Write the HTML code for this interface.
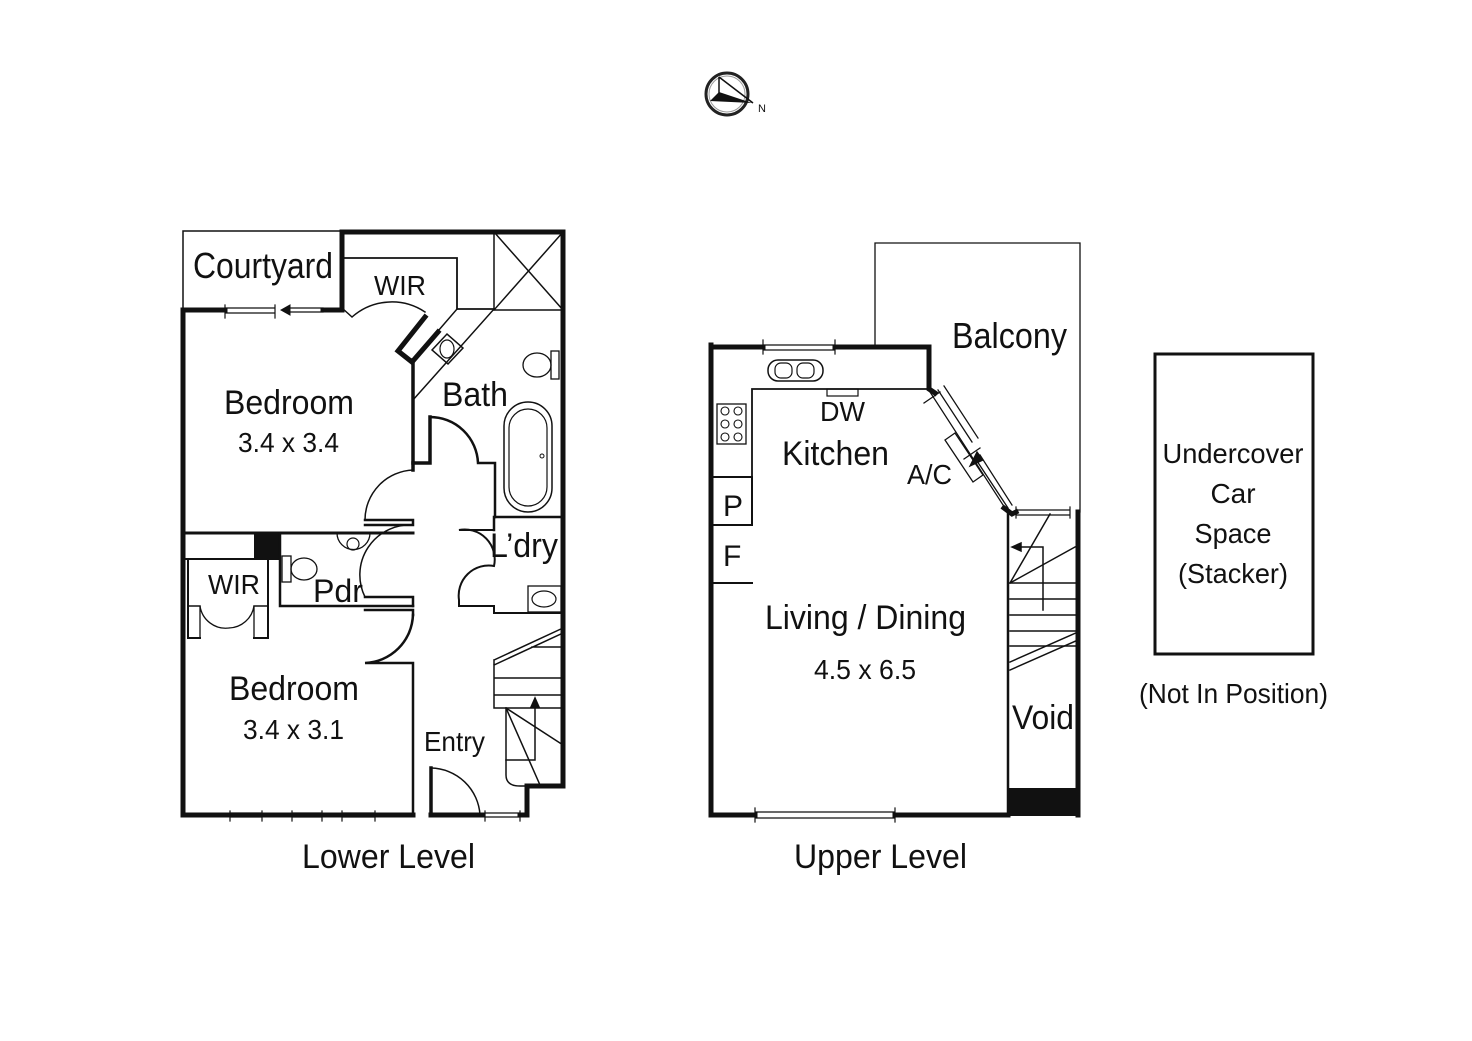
<!DOCTYPE html>
<html><head><meta charset="utf-8"><style>
html,body{margin:0;padding:0;background:#fff;}
svg{display:block;}
text{font-family:"Liberation Sans",sans-serif;fill:#111;}
</style></head><body>
<svg width="1472" height="1041" viewBox="0 0 1472 1041" xmlns="http://www.w3.org/2000/svg">
<rect width="1472" height="1041" fill="#fff"/>
<!-- compass -->
<circle cx="727" cy="94" r="21" fill="none" stroke="#222" stroke-width="3"/>
<circle cx="727" cy="94" r="18" fill="none" stroke="#999" stroke-width="1"/>
<path d="M719 92 L710 101 L752 103 Z" fill="#111"/>
<path d="M719 77 L719 93 M719 77 L753 103" stroke="#111" stroke-width="1.5" fill="none"/>
<text x="758" y="112" font-size="11">N</text>

<g fill="none" stroke="#111" stroke-linecap="square">
<!-- LOWER LEVEL -->
<path d="M183 308 L183 231 L342 231" stroke-width="1.5"/>
<path d="M342 308 L342 232 L563 232 L563 786 L527 786 L527 815" stroke-width="5"/>
<path d="M183 310 L183 815 L413 815 M431 815 L483 815 M520 815 L527 815" stroke-width="5"/>
<path d="M183 310 L225 310 M323 310 L342 310" stroke-width="5"/>
<g stroke-width="1.2">
<path d="M225 305 L225 318 M275 305 L275 318 M225 308 L275 308 M225 313 L275 313"/>
<path d="M290 308 L323 308 M290 312 L323 312"/>
<path d="M230 811 L230 821 M262 811 L262 821 M230 813 L262 813 M230 817 L262 817"/>
<path d="M292 811 L292 821 M322 811 L322 821 M292 813 L322 813 M292 817 L322 817"/>
<path d="M342 811 L342 821 M375 811 L375 821 M342 813 L375 813 M342 817 L375 817"/>
<path d="M485 811 L485 821 M520 811 L520 821 M485 813 L520 813 M485 817 L520 817"/>
</g>
<path d="M262 815 L292 815 M322 815 L342 815" stroke-width="5"/>
<path d="M281 310 L290 305 L290 315 Z" fill="#111" stroke-width="1"/>
<path d="M345 258 L457 258 L457 309 L494 309" stroke-width="1.8"/>
<path d="M494 232 L494 310 L563 310 M494 232 L563 310 M563 232 L494 310" stroke-width="1.5"/>
<path d="M342 308 L352 317 M352 317 A60 60 0 0 1 425 312" stroke-width="1.5"/>
<path d="M425 317 L398 351 L412 362 L438 332" stroke-width="5"/>
<path d="M457 309 L413 360 M494 309 L413 400" stroke-width="1.5"/>
<path d="M432 350 L447 334 L463 348 L448 364 Z" stroke-width="1.5"/>
<ellipse cx="447" cy="349" rx="7" ry="9" stroke-width="1.2"/>
<ellipse cx="537" cy="365" rx="14" ry="12" stroke-width="1.3"/>
<rect x="551" y="351" width="8" height="28" stroke-width="1.3"/>
<rect x="504" y="402" width="48" height="110" rx="24" stroke-width="1.5"/>
<rect x="509" y="409" width="38" height="97" rx="19" stroke-width="1.2"/>
<circle cx="542" cy="456" r="2" stroke-width="1"/>
<path d="M413 360 L413 463 L430 463 L430 417" stroke-width="3.5"/>
<path d="M430 417 A48 48 0 0 1 478 463 L495 463 L495 517" stroke-width="2.5"/>
<path d="M413 463 L413 470" stroke-width="3.5"/>
<path d="M413 470 A50 50 0 0 0 365 520 L413 520" stroke-width="1.5"/>
<path d="M365 520 L413 520 L413 525 L365 525" stroke-width="2.5"/>
<path d="M183 533 L413 533" stroke-width="3"/>
<path d="M183 559 L280 559" stroke-width="2"/>
<rect x="254" y="533" width="26" height="25" fill="#111" stroke="none"/>
<path d="M280 533 L280 606 L413 606" stroke-width="2.5"/>
<path d="M365 597 L413 597 L413 606 M365 610 L413 610 L413 615" stroke-width="2.5"/>
<path d="M413 525 A50 50 0 0 0 365 597" stroke-width="1.5"/>
<path d="M413 615 A50 50 0 0 1 365 663 L413 663 L413 815" stroke-width="2.5"/>
<path d="M337 533 A16 16 0 0 0 370 533" stroke-width="1.3"/>
<circle cx="353" cy="544" r="6" stroke-width="1.2"/>
<rect x="282" y="556" width="9" height="26" stroke-width="1.3"/>
<ellipse cx="304" cy="569" rx="13" ry="11" stroke-width="1.3"/>
<path d="M188 559 L188 638 L200 638 M268 559 L268 638 L254 638" stroke-width="2"/>
<path d="M200 638 L200 606 A26 26 0 0 0 229 628 M254 638 L254 606 A26 26 0 0 1 229 628" stroke-width="1.3"/>
<path d="M188 606 L200 606 M254 606 L268 606" stroke-width="1.5"/>
<path d="M495 517 L563 517" stroke-width="2.5"/>
<path d="M494 525 L494 530 L459 530 A30 30 0 0 1 494 566 A30 30 0 0 0 459 600 L459 606 L494 606 L494 613 L563 613" stroke-width="2"/>
<path d="M494 517 L494 530" stroke-width="2.5"/>
<rect x="528" y="586" width="33" height="26" stroke-width="1.3"/>
<ellipse cx="544" cy="599" rx="12" ry="8" stroke-width="1.2"/>
<g stroke-width="1.5">
<path d="M494 660 L563 628 M494 665 L563 633 M494 660 L494 708 L563 708 M494 678 L563 678 M494 695 L563 695 M532 647 L563 647"/>
<path d="M506 708 L506 775 Q506 786 520 786 L527 786"/>
<path d="M506 708 L540 785 M506 708 L563 745"/>
<path d="M535 760 L535 700 M506 760 L535 760"/>
<path d="M535 698 L531 707 L539 707 Z" fill="#111"/>
</g>
<path d="M431 815 L431 768" stroke-width="3.5"/>
<path d="M431 768 A50 50 0 0 1 480 815" stroke-width="1.5"/>

<!-- UPPER LEVEL -->
<path d="M875 347 L875 243 L1080 243 L1080 512" stroke-width="1.3"/>
<path d="M711 347 L763 347 M835 347 L929 347 L929 389 L935 393" stroke-width="5"/>
<path d="M711 345 L711 815 L755 815 M895 815 L1008 815" stroke-width="5"/>
<path d="M1078 512 L1078 815" stroke-width="5"/>
<rect x="1009" y="788" width="71" height="28" fill="#111" stroke="none"/>
<path d="M1004 508 L1012 514 L1016 512" stroke-width="5"/>
<g stroke-width="1.2">
<path d="M763 340 L763 354 M835 340 L835 354 M763 345 L835 345 M763 350 L835 350"/>
<path d="M755 808 L755 822 M895 808 L895 822 M755 812 L895 812 M755 818 L895 818"/>
<path d="M1016 507 L1016 518 M1070 507 L1070 518 M1016 510 L1070 510 M1016 515 L1070 515"/>
</g>
<g stroke-width="1.3">
<path d="M930 392 L1005 508"/>
<path d="M938 390 L972 442 M944 386 L978 438"/>
<path d="M924 403 L940 392 M964 459 L980 448"/>
<path d="M975 458 L1008 508 M980 455 L1012 505"/>
<path d="M945 440 L955 433 L983 475 L973 482 Z"/>
<path d="M977 452 L970 466 L983 460 Z" fill="#111"/>
</g>
<path d="M752 477 L752 389 L929 389" stroke-width="1.8"/>
<rect x="827" y="389" width="31" height="7" stroke-width="1.2"/>
<rect x="768" y="360" width="55" height="21" rx="10" stroke-width="1.5"/>
<rect x="775" y="363" width="17" height="15" rx="6" stroke-width="1.2"/>
<rect x="797" y="363" width="17" height="15" rx="6" stroke-width="1.2"/>
<rect x="717" y="404" width="29" height="40" stroke-width="1.3"/>
<g stroke-width="1.1">
<circle cx="725" cy="411" r="4"/><circle cx="738" cy="411" r="4"/>
<circle cx="725" cy="424" r="4"/><circle cx="738" cy="424" r="4"/>
<circle cx="725" cy="437" r="4"/><circle cx="738" cy="437" r="4"/>
</g>
<path d="M711 477 L752 477 L752 525 L711 525" stroke-width="2"/>
<path d="M711 583 L752 583" stroke-width="2"/>
<path d="M1008 512 L1008 815" stroke-width="2.5"/>
<g stroke-width="1.5">
<path d="M1010 583 L1050 514 M1010 583 L1075 547"/>
<path d="M1010 583 L1078 583 M1010 599 L1078 599 M1010 615 L1078 615 M1010 631 L1078 631 M1010 646 L1078 646"/>
<path d="M1043 610 L1043 547 L1016 547"/>
<path d="M1012 547 L1021 543 L1021 551 Z" fill="#111"/>
<path d="M1010 662 L1078 632 M1010 670 L1078 640"/>
</g>
<rect x="1155" y="354" width="158" height="300" stroke-width="3"/>
</g>

<g font-size="36">
<text x="193" y="278" textLength="140" lengthAdjust="spacingAndGlyphs">Courtyard</text>
<text x="224" y="414" font-size="34" textLength="130" lengthAdjust="spacingAndGlyphs">Bedroom</text>
<text x="229" y="700" font-size="34" textLength="130" lengthAdjust="spacingAndGlyphs">Bedroom</text>
<text x="442" y="406" font-size="34" textLength="66" lengthAdjust="spacingAndGlyphs">Bath</text>
<text x="952" y="348" font-size="36" textLength="115" lengthAdjust="spacingAndGlyphs">Balcony</text>
<text x="782" y="465" font-size="34" textLength="107" lengthAdjust="spacingAndGlyphs">Kitchen</text>
<text x="765" y="629" font-size="34" textLength="201" lengthAdjust="spacingAndGlyphs">Living / Dining</text>
<text x="1012" y="729" font-size="34" textLength="62" lengthAdjust="spacingAndGlyphs">Void</text>
<text x="490" y="557" font-size="34" textLength="68" lengthAdjust="spacingAndGlyphs">L’dry</text>
<text x="313" y="602" font-size="32" textLength="50" lengthAdjust="spacingAndGlyphs">Pdr</text>
</g>
<g font-size="28">
<text x="374" y="295" textLength="52" lengthAdjust="spacingAndGlyphs">WIR</text>
<text x="208" y="594" textLength="52" lengthAdjust="spacingAndGlyphs">WIR</text>
<text x="238" y="452" textLength="101" lengthAdjust="spacingAndGlyphs">3.4 x 3.4</text>
<text x="243" y="739" textLength="101" lengthAdjust="spacingAndGlyphs">3.4 x 3.1</text>
<text x="424" y="751" textLength="61" lengthAdjust="spacingAndGlyphs">Entry</text>
<text x="820" y="421" textLength="45" lengthAdjust="spacingAndGlyphs">DW</text>
<text x="907" y="484" textLength="45" lengthAdjust="spacingAndGlyphs">A/C</text>
<text x="723" y="516" font-size="30">P</text>
<text x="723" y="566" font-size="30">F</text>
<text x="814" y="679" textLength="102" lengthAdjust="spacingAndGlyphs">4.5 x 6.5</text>
<text x="1233" y="463" text-anchor="middle" textLength="141" lengthAdjust="spacingAndGlyphs">Undercover</text>
<text x="1233" y="503" text-anchor="middle">Car</text>
<text x="1233" y="543" text-anchor="middle" textLength="77" lengthAdjust="spacingAndGlyphs">Space</text>
<text x="1233" y="583" text-anchor="middle" textLength="110" lengthAdjust="spacingAndGlyphs">(Stacker)</text>
<text x="1139" y="703" textLength="189" lengthAdjust="spacingAndGlyphs">(Not In Position)</text>
<text x="302" y="868" font-size="34" textLength="173" lengthAdjust="spacingAndGlyphs">Lower Level</text>
<text x="794" y="868" font-size="34" textLength="173" lengthAdjust="spacingAndGlyphs">Upper Level</text>
</g>
</svg>
</body></html>
